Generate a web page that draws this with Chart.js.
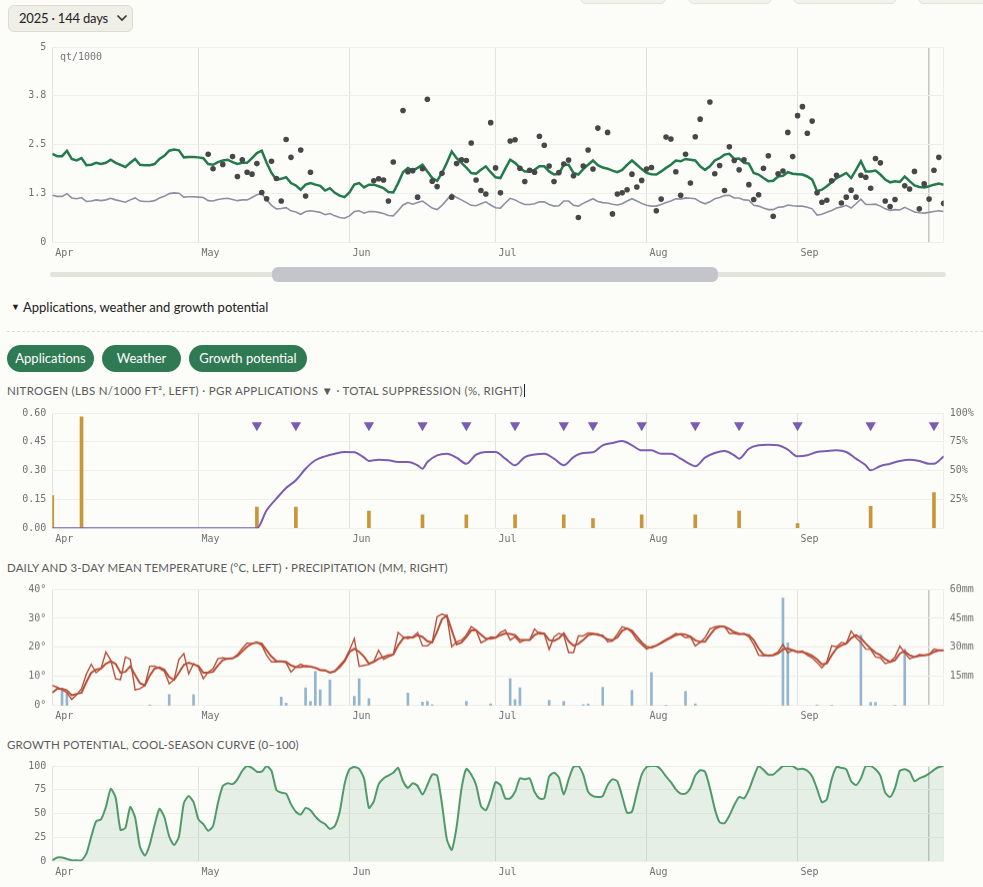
<!DOCTYPE html>
<html><head><meta charset="utf-8">
<script src="https://cdn.jsdelivr.net/npm/chart.js@4.4.1/dist/chart.umd.min.js"></script>
<style>
html,body{margin:0;padding:0;background:#fcfcf8;width:983px;height:887px;overflow:hidden;font-family:Lato,"Noto Sans",sans-serif;color:#222;}
.abs{position:absolute;}
.tab{position:absolute;top:-24px;height:26px;border:1px solid #e2e2da;border-radius:6px;background:#f3f3ee;}
.sel{left:8px;top:5px;width:113px;height:25px;border:1px solid #dcdcd2;border-radius:6px;background:#efeee7;font-size:13px;letter-spacing:-0.2px;line-height:25px;padding-left:10px;box-sizing:content-box;color:#222;}
.btn{position:absolute;top:345px;height:27px;border-radius:14px;background:#2f7a52;color:#fff;font-size:13px;line-height:27px;text-align:center;}
.hd{position:absolute;left:7px;font-size:11.5px;letter-spacing:0.15px;color:#5b5b5b;white-space:nowrap;line-height:14px;}
.mono{font-family:"DejaVu Sans Mono",monospace;}
.cv{position:absolute;left:0;width:983px;}
</style></head><body>

<div class="tab" style="left:580px;width:84px"></div>
<div class="tab" style="left:688px;width:82px"></div>
<div class="tab" style="left:793px;width:102px"></div>
<div class="tab" style="left:918px;width:80px"></div>

<div class="abs sel">2025 · 144 days</div>
<svg class="abs" style="left:116px;top:13px" width="12" height="10"><polyline points="1.5,2.5 6,7 10.5,2.5" fill="none" stroke="#333" stroke-width="1.6"/></svg>

<div class="abs" style="left:50px;top:272px;width:896px;height:5px;border-radius:3px;background:#e4e4dc"></div>
<div class="abs" style="left:272px;top:267px;width:446px;height:15px;border-radius:6px;background:#c3c5ca"></div>

<div class="abs" style="left:11px;top:299px;font-size:9px;line-height:16px">▼</div>
<div class="abs" style="left:23px;top:298px;font-size:13px;line-height:18px;color:#222">Applications, weather and growth potential</div>
<div class="abs" style="left:7px;top:331px;width:976px;border-top:1px dashed #dcdcd4"></div>

<div class="btn" style="left:7px;width:87px">Applications</div>
<div class="btn" style="left:102px;width:79px">Weather</div>
<div class="btn" style="left:189px;width:118px">Growth potential</div>

<div class="hd" style="top:384px;letter-spacing:0.3px"><span style="border-right:1px solid #222;padding-right:1px">NITROGEN (LBS N/1000 FT², LEFT) · PGR APPLICATIONS ▼ · TOTAL SUPPRESSION (%, RIGHT)</span></div>
<div class="hd" style="top:561px">DAILY AND 3-DAY MEAN TEMPERATURE (°C, LEFT) · PRECIPITATION (MM, RIGHT)</div>
<div class="hd" style="top:738px">GROWTH POTENTIAL, COOL-SEASON CURVE (0–100)</div>

<div class="cv" style="top:33.3px;height:231px"><canvas id="c1"></canvas></div>
<div class="abs mono" style="left:60px;top:51px;font-size:10px;color:#777">qt/1000</div>
<div class="cv" style="top:398.7px;height:151.3px"><canvas id="c2"></canvas></div>
<div class="cv" style="top:575.3px;height:151.7px"><canvas id="c3"></canvas></div>
<div class="cv" style="top:751.7px;height:131.3px"><canvas id="c4"></canvas></div>

<script>
// ---------- axis / category data ----------
const monthStarts = [0, 30, 61, 91, 122, 153];
const monthNames  = ['Apr', 'May', 'Jun', 'Jul', 'Aug', 'Sep'];
const todayDay = 180;
const lastDay = 183;

// ---------- top chart: clipping yield (qt/1000) ----------
const qualityLine = [
 2.26,2.20,2.20,2.34,2.13,2.09,2.15,1.97,1.98,2.03,
 2.00,2.03,2.11,2.03,1.98,1.92,2.03,2.13,1.98,1.97,
 1.97,2.00,2.13,2.21,2.34,2.37,2.35,2.17,2.18,2.18,
 2.17,2.15,2.00,1.98,2.05,2.09,2.11,2.05,2.00,2.03,
 2.03,2.15,2.28,2.34,2.03,1.77,1.60,1.62,1.66,1.51,
 1.45,1.34,1.47,1.51,1.47,1.44,1.32,1.38,1.26,1.19,
 1.15,1.27,1.47,1.51,1.40,1.47,1.47,1.43,1.38,1.28,
 1.27,1.51,1.79,1.90,1.83,1.90,1.98,1.81,1.64,1.57,
 1.77,2.03,2.32,2.15,2.03,1.91,1.77,1.75,1.85,1.94,
 1.79,1.66,1.64,1.88,2.11,2.03,1.90,1.81,1.81,1.85,
 1.94,1.94,1.81,1.73,1.75,1.98,1.98,1.77,1.73,1.87,
 1.98,2.09,1.97,1.91,1.88,1.83,1.79,1.85,1.98,2.09,
 1.98,1.87,1.77,1.74,1.73,1.81,1.90,1.98,2.09,2.07,
 2.13,2.11,2.09,1.94,1.85,1.94,2.09,2.15,2.24,2.26,
 2.13,2.14,2.03,2.01,1.77,1.73,1.64,1.56,1.57,1.68,
 1.70,1.79,1.75,1.74,1.73,1.68,1.60,1.30,1.34,1.43,
 1.53,1.64,1.70,1.77,1.64,1.85,2.07,1.81,1.81,1.83,
 1.73,1.60,1.53,1.56,1.54,1.68,1.56,1.45,1.41,1.40,
 1.43,1.47,1.50,1.47];
const baselineLine = [
 1.20,1.17,1.17,1.24,1.13,1.11,1.14,1.04,1.05,1.08,
 1.06,1.08,1.12,1.08,1.05,1.02,1.08,1.13,1.05,1.04,
 1.04,1.06,1.13,1.17,1.24,1.26,1.25,1.15,1.16,1.16,
 1.15,1.14,1.06,1.05,1.09,1.11,1.12,1.09,1.06,1.08,
 1.08,1.14,1.21,1.24,1.08,0.94,0.85,0.86,0.88,0.80,
 0.77,0.71,0.78,0.80,0.78,0.76,0.70,0.73,0.67,0.63,
 0.61,0.67,0.78,0.80,0.74,0.78,0.78,0.76,0.73,0.68,
 0.67,0.80,0.95,1.01,0.97,1.01,1.05,0.96,0.87,0.83,
 0.94,1.08,1.23,1.14,1.08,1.01,0.94,0.93,0.98,1.03,
 0.95,0.88,0.87,1.00,1.12,1.08,1.01,0.96,0.96,0.98,
 1.03,1.03,0.96,0.92,0.93,1.05,1.05,0.94,0.92,0.99,
 1.05,1.11,1.04,1.01,1.00,0.97,0.95,0.98,1.05,1.11,
 1.05,0.99,0.94,0.92,0.92,0.96,1.01,1.05,1.11,1.10,
 1.13,1.12,1.11,1.03,0.98,1.03,1.11,1.14,1.19,1.20,
 1.13,1.13,1.08,1.07,0.94,0.92,0.87,0.83,0.83,0.89,
 0.90,0.95,0.93,0.92,0.92,0.89,0.85,0.69,0.71,0.76,
 0.81,0.87,0.90,0.94,0.87,0.98,1.10,0.96,0.96,0.97,
 0.92,0.85,0.81,0.83,0.82,0.89,0.83,0.77,0.75,0.74,
 0.76,0.78,0.80,0.78];
const obsDays = [32,33,35,37,38,39,40,41,42,43,44,45,46,47,48,49,51,52,53,66,67,68,69,70,72,73,74,75,76,77,78,79,80,82,83,84,85,86,87,88,89,90,91,92,94,95,96,97,98,99,100,101,102,103,104,105,106,107,108,109,110,111,112,114,115,116,117,118,119,120,121,122,123,124,125,126,127,128,129,130,131,132,133,135,136,137,138,139,140,141,142,143,144,145,146,147,148,149,150,151,152,153,154,155,156,157,158,159,160,161,162,163,164,165,166,167,168,169,170,171,172,173,175,176,177,178,179,180,181,182,183];
const obsVals = [2.25,1.88,1.99,2.19,1.68,2.11,1.79,1.74,2.01,1.27,1.11,2.07,1.63,1.05,2.63,2.17,2.36,1.18,1.79,1.57,1.62,1.59,1.05,2.05,3.37,1.80,1.83,1.15,1.88,3.66,1.56,1.42,1.76,1.15,2.01,2.11,2.09,2.54,1.59,1.32,1.23,3.06,1.90,1.26,2.59,2.62,1.89,1.55,1.84,1.79,2.71,2.48,1.95,1.55,1.78,2.00,2.10,1.70,0.63,1.95,2.36,1.87,2.92,2.81,0.72,1.23,1.26,1.34,1.74,1.41,1.58,1.87,1.91,0.80,1.10,2.69,2.64,1.80,1.20,2.25,1.51,2.70,3.15,3.59,1.75,1.96,1.32,2.44,2.09,1.85,2.11,1.47,1.09,1.21,1.89,2.21,0.66,1.75,1.82,2.81,2.19,3.24,3.47,2.79,3.10,1.26,1.02,1.07,1.57,1.71,1.00,1.15,1.33,1.15,1.71,1.66,1.38,2.14,2.03,1.05,0.91,1.09,1.44,1.36,1.81,0.85,1.49,1.10,1.84,2.17,0.99];
const yieldTicks = [0, 1.25, 2.5, 3.75, 5];

// ---------- nitrogen / PGR / suppression ----------
const nDays = [0, 6, 42, 50, 65, 76, 85, 95, 105, 111, 121, 132, 141, 153, 168, 181];
const nLbs  = [0.17, 0.58, 0.11, 0.11, 0.09, 0.07, 0.07, 0.07, 0.07, 0.05, 0.07, 0.07, 0.09, 0.024, 0.114, 0.186];
const pgrDays = [42, 50, 65, 76, 85, 95, 105, 111, 121, 132, 141, 153, 168, 181];
const supDays = [0,42,44,46,48,50,52,54,56,58,60,62,64,65,67,69,71,73,75,76,77,79,81,83,85,87,89,91,93,95,97,99,101,103,105,107,109,111,113,115,117,119,121,123,125,127,129,131,132,134,136,138,140,141,143,145,147,149,151,153,155,157,159,161,163,165,167,168,170,172,174,176,178,180,181,183];
const supPct  = [0,0,15.6,25.7,35,41.6,51.7,59,62.4,64.7,66.2,66,61.3,58.4,59.5,59,57.5,57.5,54.6,51.7,57.5,63.3,64.7,61.3,56,63.9,66.2,66.2,60.4,54.6,61.8,64,64.7,60.4,54.6,61.8,65.3,65.9,72,74,75.7,72,67.6,67.6,64.7,64.7,60.4,55.5,53.8,61.3,65.3,67,63.3,60.4,69,72,72.5,72,68.2,62.4,63.3,66.2,67,67.6,66.2,60.4,54.6,50.3,54,56,58.4,59.5,58.4,56,56,62.4];
const nTicks = [0, 0.15, 0.3, 0.45, 0.6];
const supTicks = [0, 25, 50, 75, 100];

// ---------- temperature / precipitation ----------
const tempDaily = [
 6.9,6.3,5.5,4.4,2.1,3.7,5.8,10.9,14.2,11.3,
 12.7,18.4,15.6,9.2,8.9,16.7,15.9,5.4,5.8,6.9,
 13.5,13.6,12.7,11.8,7.5,8.9,15.9,17.9,10.9,14.4,
 13.2,9.2,11.5,12.7,16.1,16.4,16.1,16.2,17.5,19.6,
 21.5,21.3,21.7,20.7,17.3,15.0,15.0,15.2,14.7,11.5,
 13.2,14.2,13.3,13.4,12.9,12.1,12.1,11.3,11.8,13.8,
 15.6,19.0,23.0,13.5,13.8,14.1,15.2,19.0,15.9,16.7,
 17.5,25.1,23.6,23.0,23.6,25.1,20.5,20.5,21.9,30.5,
 31.4,30.8,20.2,21.9,22.5,24.2,27.1,25.9,21.6,22.4,
 23.6,23.3,25.1,25.9,22.5,23.6,21.7,22.5,22.5,26.3,
 24.6,24.6,19.3,23.6,24.8,24.2,18.2,18.2,23.9,23.9,
 25.0,24.8,24.2,24.2,21.9,22.2,24.6,27.1,26.5,25.1,
 22.5,21.0,19.4,20.2,20.7,21.7,22.8,23.6,24.8,24.4,
 23.3,23.6,20.5,21.7,23.3,26.3,27.1,27.3,27.1,24.8,
 24.8,24.4,24.8,23.6,21.0,17.3,17.1,17.3,17.5,18.4,
 21.0,18.1,19.0,18.4,18.7,17.3,16.4,14.8,13.0,15.0,
 20.5,20.2,21.7,21.3,25.6,23.3,21.7,19.4,19.3,16.7,
 16.4,14.4,15.0,16.7,20.4,18.1,16.1,16.7,17.5,17.3,
 17.5,19.4,19.0,19.0];
const tempMean3 = [
 4.4,5.8,5.8,5.2,3.5,4.0,4.4,8.1,11.3,12.4,
 12.7,14.4,15.2,14.3,11.3,11.6,13.5,10.5,7.7,6.9,
 10.3,12.7,13.1,12.3,9.8,8.8,11.3,14.0,14.7,14.1,
 13.6,11.3,11.3,11.6,13.8,15.6,16.1,16.2,17.0,18.6,
 20.2,21.3,21.7,21.3,19.0,16.8,15.3,15.2,15.0,13.8,
 13.2,13.2,13.6,13.4,13.0,12.3,12.1,11.3,11.8,13.2,
 15.2,18.4,19.5,18.5,16.8,14.4,15.0,16.1,16.7,17.3,
 17.5,20.7,23.0,23.6,23.3,24.2,23.6,22.1,21.7,25.4,
 29.7,30.9,25.9,21.0,21.6,23.5,25.8,25.9,24.4,23.0,
 23.0,23.3,24.2,24.8,24.6,24.2,22.5,22.5,22.5,24.2,
 25.0,24.7,22.5,22.2,23.1,24.8,22.1,20.6,21.2,22.5,
 24.2,24.6,24.5,23.7,22.7,22.5,23.4,25.7,26.5,25.7,
 23.7,21.7,20.2,19.9,20.6,21.5,22.4,23.3,24.2,24.6,
 24.4,23.7,22.4,21.9,21.9,24.2,26.3,27.1,27.1,26.3,
 25.2,24.7,24.5,24.2,22.5,19.6,17.5,17.1,17.3,17.9,
 19.3,19.6,19.0,18.4,18.4,17.9,17.1,15.9,14.2,14.5,
 17.3,19.6,20.7,21.3,23.1,24.2,23.1,21.3,19.6,18.2,
 17.3,15.9,15.0,15.6,17.9,18.7,17.3,16.7,17.1,17.3,
 17.5,18.4,19.0,19.0];
const precipDays = [2,3,20,24,29,47,48,52,53,54,55,57,62,63,65,73,76,77,78,85,90,94,95,96,102,105,109,110,113,119,123,126,130,132,150,151,157,160,166,168,169,173,175];
const precipMm   = [8.6,6.1,0.3,5.7,5.7,4.3,1.2,9.2,2.1,17.6,8.1,13.1,4.7,13.8,3.5,6.4,1.7,2.2,0.5,2.2,0.9,13.8,3.1,9.2,2.6,2.2,0.5,0.9,9.4,7.8,17.1,0.2,7.3,0.9,55.4,32.3,0.3,0.2,36.3,1.6,1.6,0.2,29.1];
const tempTicks = [0, 10, 20, 30, 40];
const precipTicks = [0, 15, 30, 45, 60];

// ---------- growth potential ----------
const growthPotential = [
 1,4,4,2.5,1,1,1,8,26,42,
 44,57,76,67,33,35,57,46,15,6,
 17.5,38,55,46.5,26,17,26,61,68.5,62,
 44,39,32,37,61,79,82,81,86,95,
 100,98,94,94,100,95,75,72,71,60,
 52,49,56,53.5,47,42,39,34,37,52,
 81,96.5,99,97,87,56,63,81,87,90,
 93,98,84,77,82,79,70,80,91,90,
 60,23,12,36,76,97,91,80,58,53.5,
 66,83,80,66,66,73,87,86,87,73,
 66,66,89,93,88,70,86,99,100,91,
 73,68.5,67.5,68.5,80,86,84,68,51,52,
 72,91,99,100,100,96,89,83,75.5,71,
 71,77,90,95.5,94,77,55,41,40,48,
 59,67.5,66,75,88.5,100,96,91,91,95.5,
 100,100,100,96.5,97,95,89,76,62,65,
 86,99,98,96.5,84,80,87,100,100,96.5,
 90,72,67.5,77,95,96.5,94,84,87,89,
 92,96,99,100];
const growthTicks = [0, 25, 50, 75, 100];

// ---------- helpers ----------
const PLOT_L = 52.3, RIGHT_W = 983 - 943.7, PAD_T = 14, XAX_H = 22;
Chart.defaults.font.family = '"DejaVu Sans Mono", monospace';
Chart.defaults.font.size = 10;
Chart.defaults.color = '#717171';
Chart.defaults.animation = false;
Chart.defaults.responsive = true;
Chart.defaults.maintainAspectRatio = false;

const pts = (xs, ys) => xs.map((x, i) => ({ x, y: ys[i] }));
const daily = ys => ys.map((y, i) => ({ x: i, y }));

function xScale(showToday) {
  const tks = monthStarts.concat(showToday ? [todayDay, lastDay] : [lastDay]);
  return {
    type: 'linear', min: 0, max: lastDay, offset: false,
    afterBuildTicks: s => { s.ticks = tks.map(v => ({ value: v })); },
    afterFit: s => { s.height = XAX_H; },
    border: { display: false },
    grid: {
      offset: false,
      drawTicks: false,
      color: c => c.tick && c.tick.value === todayDay ? '#c6c6c0' : (c.tick && c.tick.value === lastDay ? '#efeee8' : '#e3e1d9'),
      lineWidth: c => c.tick && c.tick.value === todayDay ? 1.5 : 1
    },
    ticks: {
      autoSkip: false, maxRotation: 0, align: 'start', labelOffset: 3, padding: 5,
      callback: v => { const i = monthStarts.indexOf(v); return i >= 0 ? monthNames[i] : ''; }
    }
  };
}
function yScale(ticks, fmt, pos, width, showGrid) {
  return {
    position: pos, min: ticks[0], max: ticks[ticks.length - 1],
    afterBuildTicks: s => { s.ticks = ticks.map(v => ({ value: v })); },
    afterFit: s => { s.width = width; },
    border: { display: false },
    grid: { display: showGrid, drawTicks: false, color: '#efeee8' },
    ticks: { padding: 6, callback: fmt }
  };
}
function baseOpts(scales, padRight) {
  return {
    layout: { padding: { top: PAD_T, right: padRight, left: 0, bottom: 0 } },
    plugins: { legend: { display: false }, tooltip: { enabled: false } },
    scales: scales
  };
}

// ---------- chart 1 ----------
new Chart(document.getElementById('c1'), {
  type: 'line',
  data: { datasets: [
    { type: 'scatter', data: pts(obsDays, obsVals), backgroundColor: '#474747', borderColor: '#474747', pointRadius: 2.8, pointBorderWidth: 0, order: 0 },
    { data: daily(qualityLine), borderColor: '#237a4b', borderWidth: 2.5, pointRadius: 0, tension: 0, order: 1 },
    { data: daily(baselineLine), borderColor: '#8c90a2', borderWidth: 1.6, pointRadius: 0, tension: 0, order: 2 }
  ]},
  options: baseOpts({
    x: xScale(true),
    y: yScale(yieldTicks, v => (v === 0 || v === 5) ? String(v) : v.toFixed(1), 'left', PLOT_L, true)
  }, RIGHT_W)
});

// ---------- chart 2 ----------
new Chart(document.getElementById('c2'), {
  type: 'line',
  data: { datasets: [
    { type: 'bar', data: pts(nDays, nLbs), backgroundColor: '#c9973a', barThickness: 3, yAxisID: 'y', order: 3 },
    { data: pts(supDays, supPct), borderColor: '#7a5cb3', borderWidth: 2, pointRadius: 0, cubicInterpolationMode: 'monotone', yAxisID: 'y1', order: 2 },
    { type: 'scatter', data: pgrDays.map(d => ({ x: d, y: 89.3 })), pointStyle: 'triangle', rotation: 180, radius: 6, backgroundColor: '#7a5cb3', borderColor: '#7a5cb3', borderWidth: 0, yAxisID: 'y1', order: 1 }
  ]},
  options: baseOpts({
    x: xScale(false),
    y: yScale(nTicks, v => v.toFixed(2), 'left', PLOT_L, true),
    y1: yScale(supTicks, v => v === 0 ? '' : v + '%', 'right', RIGHT_W, false)
  }, 0)
});

// ---------- chart 3 ----------
new Chart(document.getElementById('c3'), {
  type: 'line',
  data: { datasets: [
    { type: 'bar', data: pts(precipDays, precipMm), backgroundColor: '#93b5cf', barThickness: 2, yAxisID: 'y1', order: 3 },
    { data: daily(tempDaily), borderColor: '#b7503a', borderWidth: 1.4, pointRadius: 0, tension: 0, yAxisID: 'y', order: 2 },
    { data: daily(tempMean3), borderColor: '#b7503a', borderWidth: 2, pointRadius: 0, tension: 0, yAxisID: 'y', order: 1 }
  ]},
  options: baseOpts({
    x: xScale(true),
    y: yScale(tempTicks, v => v + '°', 'left', PLOT_L, true),
    y1: yScale(precipTicks, v => v === 0 ? '' : v + 'mm', 'right', RIGHT_W, false)
  }, 0)
});

// ---------- chart 4 ----------
new Chart(document.getElementById('c4'), {
  type: 'line',
  data: { datasets: [
    { data: daily(growthPotential), borderColor: '#4f9a69', borderWidth: 2, pointRadius: 0, tension: 0.2, fill: 'origin', backgroundColor: 'rgba(79,154,105,0.13)' }
  ]},
  options: baseOpts({
    x: xScale(true),
    y: yScale(growthTicks, v => String(v), 'left', PLOT_L, true)
  }, RIGHT_W)
});
</script>
</body></html>
